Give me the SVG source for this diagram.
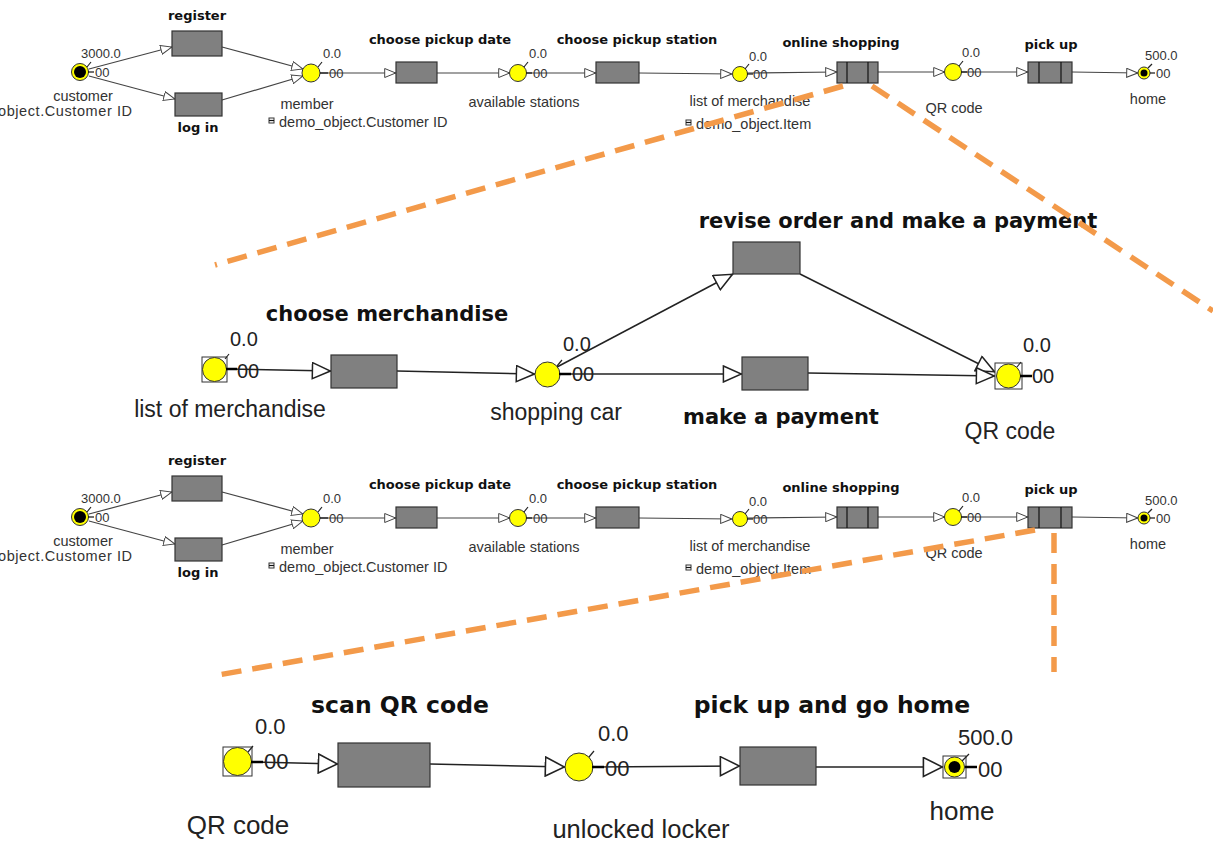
<svg xmlns="http://www.w3.org/2000/svg" width="1213" height="845" viewBox="0 0 1213 845">
<style>
.bg{fill:#fff}
.as{stroke:#444;stroke-width:1.2;fill:none;marker-end:url(#ahS)}
.am{stroke:#222;stroke-width:1.5;fill:none;marker-end:url(#ahM)}
.ab{stroke:#222;stroke-width:1.6;fill:none;marker-end:url(#ahB)}
.tr{fill:#808080;stroke:#333;stroke-width:1.2}
.pl{fill:#ffff00;stroke:#333;stroke-width:1}
.sq{fill:#fff;stroke:#333;stroke-width:1}
.blk{fill:#000}
.tick{stroke:#222;stroke-width:1.2}
.tok{stroke:#111;stroke-width:1.2}
.tokb{stroke:#000;stroke-width:2.5}
.ls{font-family:"DejaVu Sans",sans-serif;font-weight:bold;font-size:13px;text-anchor:middle;fill:#111}
.ts{font-family:"Liberation Sans",Arial,sans-serif;font-size:14.5px;fill:#333}
.tc{text-anchor:middle}
.vs{font-family:"Liberation Sans",Arial,sans-serif;font-size:13px;fill:#333}
.lm{font-family:"DejaVu Sans",sans-serif;font-weight:bold;font-size:21px;text-anchor:middle;fill:#111}
.tm{font-family:"Liberation Sans",Arial,sans-serif;font-size:23px;fill:#222}
.vm{font-family:"Liberation Sans",Arial,sans-serif;font-size:20px;fill:#222}
.lb{font-family:"DejaVu Sans",sans-serif;font-weight:bold;font-size:23.5px;text-anchor:middle;fill:#111}
.tb{font-family:"Liberation Sans",Arial,sans-serif;font-size:26px;fill:#222}
.vb{font-family:"Liberation Sans",Arial,sans-serif;font-size:22px;fill:#222}
.ico{fill:#fff;stroke:#333;stroke-width:1}
.dash{stroke:#f39a4a;stroke-width:5.5;stroke-dasharray:20 11;fill:none}
</style>
<defs>
<marker id="ahS" viewBox="0 0 12 10" refX="11.8" refY="5" markerWidth="12" markerHeight="10" markerUnits="userSpaceOnUse" orient="auto"><path d="M0.5,0.5 L11.5,5 L0.5,9.5 Z" fill="#fff" stroke="#444" stroke-width="1"/></marker>
<marker id="ahM" viewBox="0 0 20 18" refX="19.6" refY="9" markerWidth="20" markerHeight="18" markerUnits="userSpaceOnUse" orient="auto"><path d="M1,1 L19,9 L1,17 Z" fill="#fff" stroke="#222" stroke-width="1.5"/></marker>
<marker id="ahB" viewBox="0 0 21 21" refX="20.6" refY="10.5" markerWidth="21" markerHeight="21" markerUnits="userSpaceOnUse" orient="auto"><path d="M1,1 L20,10.5 L1,20 Z" fill="#fff" stroke="#222" stroke-width="1.6"/></marker>
</defs>
<rect class="bg" x="0" y="0" width="1213" height="845"/>

<!-- ===== STRIP 1 ===== -->
<g id="strip1">
<g id="s1-connectors">
<line class="as" x1="89" y1="69" x2="172" y2="47"/>
<line class="as" x1="89" y1="76" x2="175" y2="99"/>
<line class="as" x1="222" y1="47" x2="303" y2="69"/>
<line class="as" x1="222" y1="100" x2="303" y2="76"/>
<line class="as" x1="320" y1="73" x2="396" y2="73"/>
<line class="as" x1="437" y1="73" x2="510" y2="73"/>
<line class="as" x1="527" y1="73" x2="596" y2="73"/>
<line class="as" x1="639" y1="73" x2="732" y2="74"/>
<line class="as" x1="747" y1="73" x2="837" y2="72"/>
<line class="as" x1="878" y1="72" x2="945" y2="72"/>
<line class="as" x1="962" y1="72" x2="1028" y2="72"/>
<line class="as" x1="1072" y1="72" x2="1138" y2="73"/>
</g>
<g id="s1-customer">
<circle class="pl" cx="80" cy="72" r="8.5"/><circle class="blk" cx="80" cy="72" r="6"/>
<line class="tick" x1="87" y1="67" x2="91" y2="62"/><line class="tok" x1="88" y1="72" x2="94" y2="72"/>
<text class="vs" x="81" y="58">3000.0</text><text class="vs" x="95" y="77">00</text>
<text class="ts tc" x="83" y="101">customer</text>
<text class="ts" x="-2" y="116" textLength="134" lengthAdjust="spacing">object.Customer ID</text>
</g>
<g id="s1-register"><rect class="tr" x="172" y="31" width="50" height="25"/><text class="ls" x="197" y="20">register</text></g>
<g id="s1-login"><rect class="tr" x="175" y="93" width="47" height="23"/><text class="ls" x="198" y="132">log in</text></g>
<g id="s1-member">
<circle class="pl" cx="311" cy="73" r="9"/>
<line class="tick" x1="318" y1="67" x2="322" y2="62"/><line class="tok" x1="320" y1="73" x2="328" y2="73"/>
<text class="vs" x="323" y="58">0.0</text><text class="vs" x="329" y="78">00</text>
<text class="ts tc" x="307" y="109">member</text>
<rect class="ico" x="269" y="118" width="5" height="5"/><line class="tok" x1="269" y1="120.5" x2="274" y2="120.5"/>
<text class="ts" x="279" y="127">demo_object.Customer ID</text>
</g>
<g id="s1-date"><rect class="tr" x="396" y="62" width="41" height="21"/><text class="ls" x="440" y="44">choose pickup date</text></g>
<g id="s1-stations">
<circle class="pl" cx="518" cy="73" r="8.5"/>
<line class="tick" x1="524" y1="67" x2="528" y2="62"/><line class="tok" x1="526" y1="73" x2="532" y2="73"/>
<text class="vs" x="529" y="58">0.0</text><text class="vs" x="533" y="78">00</text>
<text class="ts tc" x="524" y="107">available stations</text>
</g>
<g id="s1-station"><rect class="tr" x="596" y="62" width="43" height="21"/><text class="ls" x="637" y="44">choose pickup station</text></g>
<g id="s1-list">
<circle class="pl" cx="740" cy="74" r="7.5"/>
<line class="tick" x1="745" y1="69" x2="749" y2="64"/><line class="tok" x1="747" y1="74" x2="753" y2="74"/>
<text class="vs" x="749" y="61">0.0</text><text class="vs" x="753" y="79">00</text>
<text class="ts tc" x="750" y="106">list of merchandise</text>
<rect class="ico" x="686" y="120" width="5" height="5"/><line class="tok" x1="686" y1="122.5" x2="691" y2="122.5"/>
<text class="ts" x="696" y="129">demo_object.Item</text>
</g>
<g id="s1-online"><rect class="tr" x="837" y="62" width="41" height="21"/><line class="tok" x1="847" y1="62" x2="847" y2="83"/><line class="tok" x1="868" y1="62" x2="868" y2="83"/><text class="ls" x="841" y="47">online shopping</text></g>
<g id="s1-qr">
<circle class="pl" cx="953" cy="72" r="8.5"/>
<line class="tick" x1="959" y1="66" x2="963" y2="61"/><line class="tok" x1="961" y1="72" x2="967" y2="72"/>
<text class="vs" x="962" y="57">0.0</text><text class="vs" x="967" y="77">00</text>
<text class="ts tc" x="954" y="113">QR code</text>
</g>
<g id="s1-pickup"><rect class="tr" x="1028" y="62" width="44" height="21"/><line class="tok" x1="1039" y1="62" x2="1039" y2="83"/><line class="tok" x1="1061" y1="62" x2="1061" y2="83"/><text class="ls" x="1051" y="49">pick up</text></g>
<g id="s1-home">
<circle class="pl" cx="1144" cy="73" r="6"/><circle class="blk" cx="1144" cy="73" r="3.5"/>
<line class="tick" x1="1148" y1="68" x2="1152" y2="64"/><line class="tok" x1="1150" y1="73" x2="1155" y2="73"/>
<text class="vs" x="1145" y="60">500.0</text><text class="vs" x="1156" y="78">00</text>
<text class="ts tc" x="1148" y="104">home</text>
</g>
</g>

<!-- ===== STRIP 2 ===== -->
<g id="strip2" transform="translate(0,445)">
<g id="s2-connectors">
<line class="as" x1="89" y1="69" x2="172" y2="47"/>
<line class="as" x1="89" y1="76" x2="175" y2="99"/>
<line class="as" x1="222" y1="47" x2="303" y2="69"/>
<line class="as" x1="222" y1="100" x2="303" y2="76"/>
<line class="as" x1="320" y1="73" x2="396" y2="73"/>
<line class="as" x1="437" y1="73" x2="510" y2="73"/>
<line class="as" x1="527" y1="73" x2="596" y2="73"/>
<line class="as" x1="639" y1="73" x2="732" y2="74"/>
<line class="as" x1="747" y1="73" x2="837" y2="72"/>
<line class="as" x1="878" y1="72" x2="945" y2="72"/>
<line class="as" x1="962" y1="72" x2="1028" y2="72"/>
<line class="as" x1="1072" y1="72" x2="1138" y2="73"/>
</g>
<g id="s2-customer">
<circle class="pl" cx="80" cy="72" r="8.5"/><circle class="blk" cx="80" cy="72" r="6"/>
<line class="tick" x1="87" y1="67" x2="91" y2="62"/><line class="tok" x1="88" y1="72" x2="94" y2="72"/>
<text class="vs" x="81" y="58">3000.0</text><text class="vs" x="95" y="77">00</text>
<text class="ts tc" x="83" y="101">customer</text>
<text class="ts" x="-2" y="116" textLength="134" lengthAdjust="spacing">object.Customer ID</text>
</g>
<g id="s2-register"><rect class="tr" x="172" y="31" width="50" height="25"/><text class="ls" x="197" y="20">register</text></g>
<g id="s2-login"><rect class="tr" x="175" y="93" width="47" height="23"/><text class="ls" x="198" y="132">log in</text></g>
<g id="s2-member">
<circle class="pl" cx="311" cy="73" r="9"/>
<line class="tick" x1="318" y1="67" x2="322" y2="62"/><line class="tok" x1="320" y1="73" x2="328" y2="73"/>
<text class="vs" x="323" y="58">0.0</text><text class="vs" x="329" y="78">00</text>
<text class="ts tc" x="307" y="109">member</text>
<rect class="ico" x="269" y="118" width="5" height="5"/><line class="tok" x1="269" y1="120.5" x2="274" y2="120.5"/>
<text class="ts" x="279" y="127">demo_object.Customer ID</text>
</g>
<g id="s2-date"><rect class="tr" x="396" y="62" width="41" height="21"/><text class="ls" x="440" y="44">choose pickup date</text></g>
<g id="s2-stations">
<circle class="pl" cx="518" cy="73" r="8.5"/>
<line class="tick" x1="524" y1="67" x2="528" y2="62"/><line class="tok" x1="526" y1="73" x2="532" y2="73"/>
<text class="vs" x="529" y="58">0.0</text><text class="vs" x="533" y="78">00</text>
<text class="ts tc" x="524" y="107">available stations</text>
</g>
<g id="s2-station"><rect class="tr" x="596" y="62" width="43" height="21"/><text class="ls" x="637" y="44">choose pickup station</text></g>
<g id="s2-list">
<circle class="pl" cx="740" cy="74" r="7.5"/>
<line class="tick" x1="745" y1="69" x2="749" y2="64"/><line class="tok" x1="747" y1="74" x2="753" y2="74"/>
<text class="vs" x="749" y="61">0.0</text><text class="vs" x="753" y="79">00</text>
<text class="ts tc" x="750" y="106">list of merchandise</text>
<rect class="ico" x="686" y="120" width="5" height="5"/><line class="tok" x1="686" y1="122.5" x2="691" y2="122.5"/>
<text class="ts" x="696" y="129">demo_object.Item</text>
</g>
<g id="s2-online"><rect class="tr" x="837" y="62" width="41" height="21"/><line class="tok" x1="847" y1="62" x2="847" y2="83"/><line class="tok" x1="868" y1="62" x2="868" y2="83"/><text class="ls" x="841" y="47">online shopping</text></g>
<g id="s2-qr">
<circle class="pl" cx="953" cy="72" r="8.5"/>
<line class="tick" x1="959" y1="66" x2="963" y2="61"/><line class="tok" x1="961" y1="72" x2="967" y2="72"/>
<text class="vs" x="962" y="57">0.0</text><text class="vs" x="967" y="77">00</text>
<text class="ts tc" x="954" y="113">QR code</text>
</g>
<g id="s2-pickup"><rect class="tr" x="1028" y="62" width="44" height="21"/><line class="tok" x1="1039" y1="62" x2="1039" y2="83"/><line class="tok" x1="1061" y1="62" x2="1061" y2="83"/><text class="ls" x="1051" y="49">pick up</text></g>
<g id="s2-home">
<circle class="pl" cx="1144" cy="73" r="6"/><circle class="blk" cx="1144" cy="73" r="3.5"/>
<line class="tick" x1="1148" y1="68" x2="1152" y2="64"/><line class="tok" x1="1150" y1="73" x2="1155" y2="73"/>
<text class="vs" x="1145" y="60">500.0</text><text class="vs" x="1156" y="78">00</text>
<text class="ts tc" x="1148" y="104">home</text>
</g>
</g>

<!-- ===== MIDDLE DETAIL ===== -->
<g id="mid">
<g id="mid-connectors">
<line class="am" x1="227" y1="369" x2="331" y2="371"/>
<line class="am" x1="397" y1="371" x2="535" y2="374"/>
<line class="am" x1="557" y1="367" x2="733" y2="274"/>
<line class="am" x1="800" y1="274" x2="995" y2="372"/>
<line class="am" x1="560" y1="374" x2="742" y2="374"/>
<line class="am" x1="808" y1="373" x2="995" y2="376"/>
</g>
<g id="mid-list">
<rect class="sq" x="202" y="357" width="25" height="25"/><circle class="pl" cx="214.5" cy="369.5" r="12"/>
<line class="tick" x1="225" y1="359" x2="229" y2="354"/><line class="tokb" x1="226" y1="369" x2="237" y2="369"/>
<text class="vm" x="230" y="346">0.0</text><text class="vm" x="237" y="378">00</text>
<text class="tm tc" x="230" y="417">list of merchandise</text>
</g>
<g id="mid-choose"><rect class="tr" x="331" y="355" width="66" height="33"/><text class="lm" x="387" y="321">choose merchandise</text></g>
<g id="mid-car">
<circle class="pl" cx="547.5" cy="374.5" r="12.5"/>
<line class="tick" x1="557" y1="366" x2="562" y2="360"/><line class="tokb" x1="559" y1="374" x2="571" y2="374"/>
<text class="vm" x="563" y="351">0.0</text><text class="vm" x="572" y="381">00</text>
<text class="tm tc" x="556" y="420">shopping car</text>
</g>
<g id="mid-revise"><rect class="tr" x="733" y="242" width="67" height="32"/><text class="lm" x="898" y="228">revise order and make a payment</text></g>
<g id="mid-pay"><rect class="tr" x="742" y="357" width="66" height="33"/><text class="lm" x="781" y="424">make a payment</text></g>
<g id="mid-qr">
<rect class="sq" x="995" y="363" width="27" height="26"/><circle class="pl" cx="1008.5" cy="376" r="12"/>
<line class="tick" x1="1017" y1="367" x2="1021" y2="362"/><line class="tokb" x1="1020" y1="376" x2="1032" y2="376"/>
<text class="vm" x="1023" y="352">0.0</text><text class="vm" x="1032" y="383">00</text>
<text class="tm tc" x="1010" y="439">QR code</text>
</g>
</g>

<!-- ===== BOTTOM DETAIL ===== -->
<g id="bot">
<g id="bot-connectors">
<line class="ab" x1="252" y1="762" x2="338" y2="764"/>
<line class="ab" x1="430" y1="764" x2="565" y2="767"/>
<line class="ab" x1="593" y1="767" x2="740" y2="766"/>
<line class="ab" x1="816" y1="767" x2="943" y2="767"/>
</g>
<g id="bot-qr">
<rect class="sq" x="223" y="747" width="29" height="29"/><circle class="pl" cx="237.5" cy="761.5" r="14"/>
<line class="tick" x1="248" y1="752" x2="253" y2="746"/><line class="tokb" x1="251" y1="762" x2="263" y2="762"/>
<text class="vb" x="255" y="734">0.0</text><text class="vb" x="264" y="769">00</text>
<text class="tb tc" x="238" y="834">QR code</text>
</g>
<g id="bot-scan"><rect class="tr" x="338" y="743" width="92" height="44"/><text class="lb" x="400" y="713">scan QR code</text></g>
<g id="bot-unlocked">
<circle class="pl" cx="579" cy="767" r="14"/>
<line class="tick" x1="589" y1="757" x2="594" y2="751"/><line class="tokb" x1="592" y1="767" x2="604" y2="767"/>
<text class="vb" x="598" y="741">0.0</text><text class="vb" x="605" y="776">00</text>
<text class="tb tc" x="641" y="838" style="font-size:25.5px">unlocked locker</text>
</g>
<g id="bot-pickhome"><rect class="tr" x="740" y="747" width="76" height="38"/><text class="lb" x="832" y="713">pick up and go home</text></g>
<g id="bot-home">
<rect class="sq" x="943" y="756" width="23" height="22"/><circle class="pl" cx="954.5" cy="767" r="10"/><circle class="blk" cx="954.5" cy="767" r="6"/>
<line class="tick" x1="962" y1="761" x2="969" y2="754"/><line class="tokb" x1="965" y1="767" x2="977" y2="767"/>
<text class="vb" x="958" y="745">500.0</text><text class="vb" x="978" y="777">00</text>
<text class="tb tc" x="962" y="820">home</text>
</g>
</g>

<!-- ===== ZOOM GUIDES ===== -->
<g id="zoom-guides">
<line class="dash" x1="843" y1="86" x2="215" y2="265"/>
<line class="dash" x1="872" y1="86" x2="1213" y2="311"/>
<line class="dash" x1="1035" y1="530" x2="218" y2="675"/>
<line class="dash" x1="1054" y1="533" x2="1054" y2="672"/>
</g>
</svg>
